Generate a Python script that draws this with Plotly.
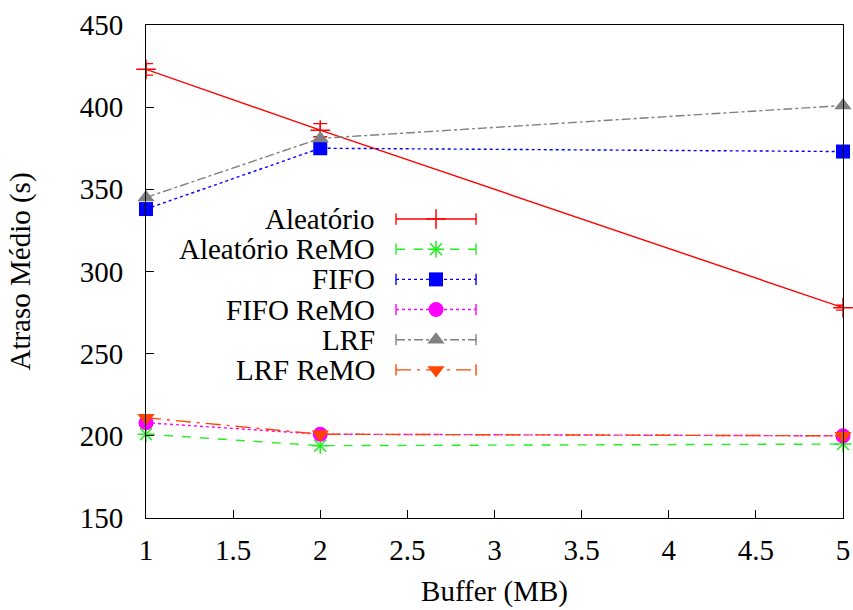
import plotly.graph_objects as go

buffer_mb = [1, 2, 5]
aleatorio = [423, 386, 278]
aleatorio_err = [3.5, 4, 1.5]
aleatorio_remo = [201, 194, 195]
fifo = [338, 375, 373]
fifo_remo = [208, 201, 200]
lrf = [345, 381, 401]
lrf_remo = [211, 201, 200]

series = [
    ("Aleatório", aleatorio, "#ff0000", "solid", "cross-thin-open", 14, aleatorio_err),
    ("Aleatório ReMO", aleatorio_remo, "#22ee22", "dash", "asterisk-open", 14, None),
    ("FIFO", fifo, "#0000ff", "dot", "square", 14, None),
    ("FIFO ReMO", fifo_remo, "#ff00ff", "dot", "circle", 15, None),
    ("LRF", lrf, "#808080", "dashdot", "triangle-up", 15, None),
    ("LRF ReMO", lrf_remo, "#ff4500", "longdashdot", "triangle-down", 15, None),
]

FONT = "Liberation Serif"
FS = 29
fig = go.Figure()

for name, vals, col, dash, sym, size, err in series:
    open_sym = sym.endswith("open")
    fig.add_trace(go.Scatter(
        x=buffer_mb, y=vals, mode="lines+markers", name=name, showlegend=False,
        line=dict(color=col, dash=dash, width=1.4),
        marker=dict(symbol=sym, size=size, color=col,
                    line=dict(color=col, width=1.5 if open_sym else 0)),
        error_y=dict(type="data", array=err, color=col, thickness=1.4, width=7) if err is not None else None,
        cliponaxis=False,
    ))

# custom gnuplot-style key (text left, sample right)
for i, (name, vals, col, dash, sym, size, err) in enumerate(series):
    open_sym = sym.endswith("open")
    fig.add_trace(go.Scatter(
        x=[0, 1], y=[-i, -i], mode="lines+markers", xaxis="x2", yaxis="y2",
        showlegend=False, hoverinfo="skip",
        line=dict(color=col, dash=dash, width=1.4),
        marker=dict(symbol="line-ns", size=8, color=col, line=dict(color=col, width=1.4)),
        cliponaxis=False,
    ))
    fig.add_trace(go.Scatter(
        x=[0.5], y=[-i], mode="markers", xaxis="x2", yaxis="y2",
        showlegend=False, hoverinfo="skip",
        marker=dict(symbol=sym, size=size, color=col,
                    line=dict(color=col, width=1.5 if open_sym else 0)),
        cliponaxis=False,
    ))
    fig.add_annotation(x=0.3314, xref="paper", y=-i, yref="y2", text=name,
                       showarrow=False, xanchor="right", yanchor="middle",
                       font=dict(family=FONT, size=FS, color="black"))

axis_common = dict(showline=True, linecolor="black", linewidth=1, mirror=True,
                   ticks="inside", ticklen=8, tickwidth=1, tickcolor="black",
                   showgrid=False, zeroline=False, automargin=False,
                   tickfont=dict(family=FONT, size=FS, color="black"))

fig.update_layout(
    width=853, height=610,
    margin=dict(l=146, r=10, t=25, b=92),
    paper_bgcolor="white", plot_bgcolor="white",
    font=dict(family=FONT, color="black"),
    xaxis=dict(range=[1, 5], dtick=0.5, tick0=1, ticklabelstandoff=6,
               title=dict(text="Buffer (MB)", font=dict(family=FONT, size=FS, color="black"),
                          standoff=15),
               **axis_common),
    yaxis=dict(range=[150, 450], dtick=50, tick0=150, ticklabelstandoff=16,
               title=dict(text="Atraso Médio (s)", font=dict(family=FONT, size=FS, color="black"),
                          standoff=40),
               **axis_common),
    xaxis2=dict(domain=[0.3587, 0.4735], range=[0, 1], visible=False, anchor="y2"),
    yaxis2=dict(domain=[0.2698, 0.635], range=[-5.5, 0.467], visible=False, anchor="x2"),
)

fig.write_html("out.html")
